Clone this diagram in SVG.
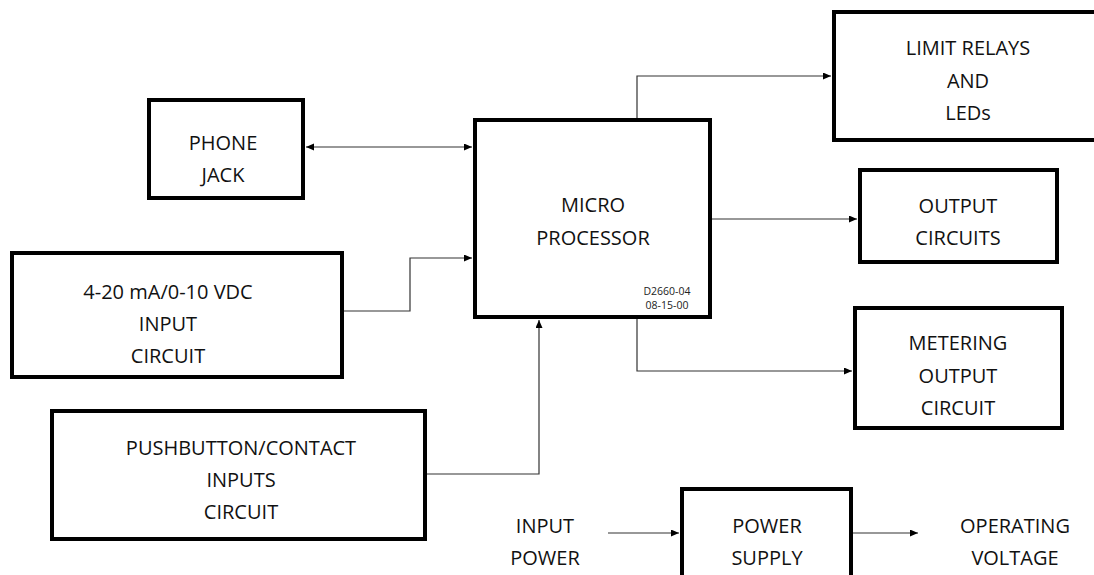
<svg xmlns="http://www.w3.org/2000/svg" width="1094" height="575" viewBox="0 0 1094 575">
<style>
.box{fill:#fff;stroke:#000;stroke-width:4}
.lbl{font-family:"Open Sans","Noto Sans",sans-serif;font-size:20px;fill:#111;text-anchor:middle}
.sm{font-family:"Open Sans","Noto Sans",sans-serif;font-size:10.5px;fill:#222;text-anchor:middle}
.wire{fill:none;stroke:#333;stroke-width:1.2}
</style>
<defs>
<marker id="arr" markerUnits="userSpaceOnUse" markerWidth="9" markerHeight="8" refX="8" refY="3.5" orient="auto-start-reverse" viewBox="0 0 9 8">
<path d="M0,0 L8,3.5 L0,7 z" fill="#000"/>
</marker>
</defs>
<rect width="1094" height="575" fill="#fff"/>
<g id="connectors">
<path class="wire" d="M306,147 H472" marker-start="url(#arr)" marker-end="url(#arr)"/>
<path class="wire" d="M344,311 H410 V258 H472" marker-end="url(#arr)"/>
<path class="wire" d="M427,474 H539 V320" marker-end="url(#arr)"/>
<path class="wire" d="M637,118 V76 H831" marker-end="url(#arr)"/>
<path class="wire" d="M712,219 H857" marker-end="url(#arr)"/>
<path class="wire" d="M637,319 V371 H852" marker-end="url(#arr)"/>
<path class="wire" d="M608,533 H679" marker-end="url(#arr)"/>
<path class="wire" d="M853,533 H918" marker-end="url(#arr)"/>
</g>
<g id="phone-jack">
<rect class="box" x="149" y="100" width="154" height="98"/>
<text class="lbl" x="223" y="150">PHONE</text>
<text class="lbl" x="223" y="182">JACK</text>
</g>
<g id="microprocessor">
<rect class="box" x="475" y="120" width="235" height="197"/>
<text class="lbl" x="593" y="212">MICRO</text>
<text class="lbl" x="593" y="245">PROCESSOR</text>
<text class="sm" x="667" y="295">D2660-04</text>
<text class="sm" x="667" y="309">08-15-00</text>
</g>
<g id="limit-relays">
<rect class="box" x="834" y="12" width="300" height="128"/>
<text class="lbl" x="968" y="55">LIMIT RELAYS</text>
<text class="lbl" x="968" y="88">AND</text>
<text class="lbl" x="968" y="120">LEDs</text>
</g>
<g id="output-circuits">
<rect class="box" x="860" y="170" width="197" height="92"/>
<text class="lbl" x="958" y="213">OUTPUT</text>
<text class="lbl" x="958" y="245">CIRCUITS</text>
</g>
<g id="metering-output">
<rect class="box" x="855" y="308" width="207" height="120"/>
<text class="lbl" x="958" y="350">METERING</text>
<text class="lbl" x="958" y="383">OUTPUT</text>
<text class="lbl" x="958" y="415">CIRCUIT</text>
</g>
<g id="input-circuit">
<rect class="box" x="12" y="253" width="330" height="124"/>
<text class="lbl" x="168" y="299">4-20 mA/0-10 VDC</text>
<text class="lbl" x="168" y="331">INPUT</text>
<text class="lbl" x="168" y="363">CIRCUIT</text>
</g>
<g id="pushbutton-inputs">
<rect class="box" x="52" y="411" width="373" height="128"/>
<text class="lbl" x="241" y="455">PUSHBUTTON/CONTACT</text>
<text class="lbl" x="241" y="487">INPUTS</text>
<text class="lbl" x="241" y="519">CIRCUIT</text>
</g>
<g id="input-power">
<text class="lbl" x="545" y="533">INPUT</text>
<text class="lbl" x="545" y="565">POWER</text>
</g>
<g id="power-supply">
<rect class="box" x="682" y="489" width="169" height="110"/>
<text class="lbl" x="767" y="533">POWER</text>
<text class="lbl" x="767" y="565">SUPPLY</text>
</g>
<g id="operating-voltage">
<text class="lbl" x="1015" y="533">OPERATING</text>
<text class="lbl" x="1015" y="565">VOLTAGE</text>
</g>
</svg>
